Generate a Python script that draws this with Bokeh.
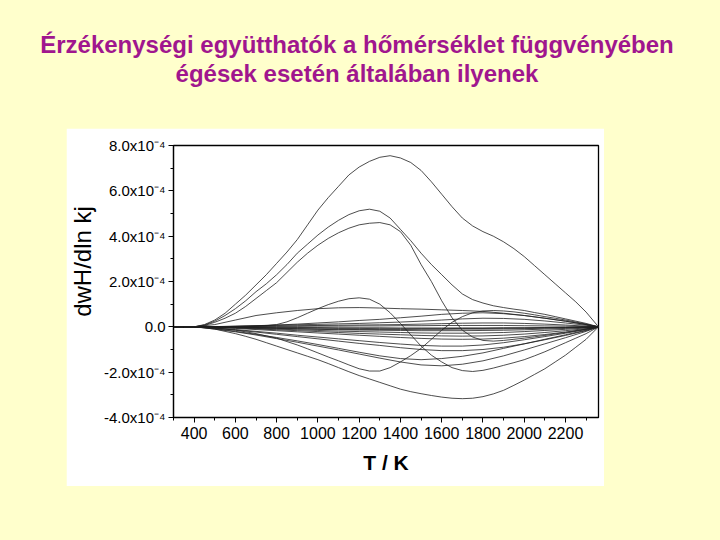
from bokeh.plotting import figure
from bokeh.models import Range1d, FixedTicker, Div, GlobalInlineStyleSheet
from bokeh.layouts import column
from bokeh.embed import file_html
from bokeh.resources import INLINE

# ---------------- data (sensitivity in units of 1e-4) ----------------
title_lines = ["Érzékenységi együtthatók a hőmérséklet függvényében",
               "égések esetén általában ilyenek"]

# fine temperature grid for the large curves
T2 = [300, 350, 400, 450, 500, 550, 600, 650, 700, 750,
      800, 850, 900, 950, 1000, 1050, 1100, 1150, 1200, 1250,
      1300, 1350, 1400, 1450, 1500, 1550, 1600, 1650, 1700, 1750,
      1800, 1850, 1900, 1950, 2000, 2050, 2100, 2150, 2200, 2250,
      2300, 2360]

A = [0, 0, 0, 0.1, 0.3, 0.6, 1.0, 1.4, 1.85, 2.3,
     2.8, 3.3, 3.85, 4.5, 5.15, 5.7, 6.2, 6.7, 7.05, 7.3,
     7.48, 7.55, 7.45, 7.25, 6.9, 6.4, 5.85, 5.3, 4.8, 4.45,
     4.2, 4.0, 3.75, 3.45, 3.1, 2.7, 2.3, 1.9, 1.5, 1.1,
     0.65, 0]
B = [0, 0, 0, 0.08, 0.25, 0.5, 0.8, 1.15, 1.55, 1.9,
     2.3, 2.75, 3.25, 3.65, 4.05, 4.4, 4.7, 4.95, 5.12, 5.19,
     5.1, 4.8, 4.3, 3.8, 3.25, 2.75, 2.3, 1.85, 1.45, 1.2,
     1.05, 0.93, 0.85, 0.78, 0.72, 0.63, 0.55, 0.45, 0.35, 0.25,
     0.15, 0]
C = [0, 0, 0, 0.06, 0.2, 0.38, 0.6, 0.9, 1.25, 1.6,
     1.95, 2.4, 2.85, 3.25, 3.6, 3.9, 4.15, 4.35, 4.5, 4.57,
     4.6, 4.5, 4.2, 3.6, 2.75, 2.0, 1.15, 0.4, -0.15, -0.45,
     -0.6, -0.63, -0.6, -0.55, -0.5, -0.44, -0.38, -0.31, -0.25, -0.18,
     -0.1, 0]
D = [0, 0, 0, 0, 0, 0, 0, 0.01, 0.02, 0.05,
     0.1, 0.22, 0.4, 0.6, 0.8, 0.98, 1.13, 1.24, 1.28, 1.22,
     1.0, 0.62, 0.15, -0.35, -0.85, -1.25, -1.55, -1.8, -1.93, -1.97,
     -1.92, -1.82, -1.7, -1.58, -1.45, -1.28, -1.1, -0.9, -0.7, -0.5,
     -0.3, 0]
L = [0, 0, 0, -0.02, -0.05, -0.1, -0.15, -0.22, -0.3, -0.4,
     -0.5, -0.65, -0.8, -0.97, -1.15, -1.33, -1.5, -1.68, -1.85, -1.95,
     -1.95, -1.8, -1.55, -1.27, -0.95, -0.55, -0.15, 0.2, 0.45, 0.62,
     0.7, 0.72, 0.7, 0.66, 0.6, 0.53, 0.45, 0.38, 0.3, 0.21,
     0.12, 0]
M = [0, 0, 0, -0.04, -0.1, -0.2, -0.3, -0.42, -0.55, -0.7,
     -0.85, -1.0, -1.15, -1.3, -1.45, -1.62, -1.8, -1.98, -2.15, -2.3,
     -2.45, -2.6, -2.75, -2.86, -2.95, -3.03, -3.1, -3.15, -3.17, -3.15,
     -3.08, -2.96, -2.8, -2.58, -2.35, -2.1, -1.85, -1.55, -1.25, -0.9,
     -0.55, 0]

# coarse grid for the smaller curves
T = [300, 400, 500, 600, 700, 800, 900, 1000, 1100, 1200, 1300, 1400,
     1500, 1600, 1700, 1800, 1900, 2000, 2100, 2200, 2300, 2360]

E = [0, 0, 0.1, 0.3, 0.5, 0.62, 0.72, 0.8, 0.84, 0.85, 0.83, 0.8, 0.78, 0.75, 0.72, 0.68, 0.6, 0.5, 0.38, 0.25, 0.1, 0]
F = [0, 0, 0, 0.02, 0.05, 0.08, 0.12, 0.17, 0.22, 0.28, 0.33, 0.4, 0.47, 0.55, 0.6, 0.62, 0.58, 0.5, 0.38, 0.25, 0.1, 0]
G = [0, 0, 0.01, 0.03, 0.05, 0.07, 0.09, 0.11, 0.13, 0.15, 0.18, 0.21, 0.25, 0.3, 0.35, 0.38, 0.37, 0.33, 0.26, 0.17, 0.07, 0]
K1 = [0, 0, -0.08, -0.2, -0.33, -0.47, -0.62, -0.78, -0.95, -1.12, -1.28, -1.4, -1.45, -1.4, -1.3, -1.15, -0.95, -0.75, -0.55, -0.35, -0.15, 0]
K2 = [0, 0, -0.1, -0.22, -0.36, -0.52, -0.68, -0.85, -1.02, -1.2, -1.38, -1.55, -1.68, -1.72, -1.65, -1.5, -1.28, -1.02, -0.75, -0.48, -0.2, 0]
I1 = [0, 0, -0.05, -0.12, -0.2, -0.28, -0.37, -0.45, -0.53, -0.61, -0.69, -0.76, -0.82, -0.85, -0.85, -0.8, -0.7, -0.57, -0.43, -0.28, -0.12, 0]
J1 = [0, 0, -0.06, -0.14, -0.23, -0.33, -0.43, -0.53, -0.63, -0.73, -0.82, -0.92, -1.0, -1.05, -1.05, -1.0, -0.9, -0.75, -0.57, -0.38, -0.17, 0]
N0 = [0, 0, 0.01, 0.02, 0.03, 0.04, 0.05, 0.06, 0.07, 0.08, 0.09, 0.1, 0.12, 0.14, 0.16, 0.17, 0.17, 0.15, 0.12, 0.08, 0.03, 0]
N1 = [0, 0, -0.01, -0.02, -0.03, -0.04, -0.05, -0.06, -0.07, -0.07, -0.08, -0.08, -0.08, -0.08, -0.07, -0.07, -0.06, -0.05, -0.04, -0.03, -0.01, 0]
N2 = [0, 0, -0.01, -0.03, -0.05, -0.07, -0.09, -0.11, -0.13, -0.14, -0.15, -0.16, -0.17, -0.17, -0.17, -0.16, -0.15, -0.13, -0.1, -0.07, -0.03, 0]
N3 = [0, 0, -0.02, -0.04, -0.07, -0.1, -0.13, -0.16, -0.19, -0.21, -0.23, -0.25, -0.27, -0.28, -0.28, -0.27, -0.25, -0.21, -0.16, -0.11, -0.05, 0]
N4 = [0, 0, -0.02, -0.05, -0.09, -0.13, -0.17, -0.21, -0.25, -0.29, -0.32, -0.35, -0.38, -0.4, -0.41, -0.4, -0.37, -0.32, -0.25, -0.17, -0.08, 0]
N5 = [0, 0, -0.03, -0.07, -0.12, -0.17, -0.22, -0.27, -0.32, -0.37, -0.42, -0.47, -0.51, -0.54, -0.55, -0.54, -0.5, -0.43, -0.34, -0.23, -0.1, 0]
N6 = [0, 0, -0.01, -0.01, -0.02, -0.02, -0.03, -0.03, -0.04, -0.04, -0.04, -0.05, -0.05, -0.05, -0.05, -0.05, -0.04, -0.04, -0.03, -0.02, -0.01, 0]
N7 = [0, 0, 0, 0.01, 0.01, 0.02, 0.02, 0.03, 0.03, 0.04, 0.04, 0.05, 0.05, 0.06, 0.06, 0.06, 0.06, 0.05, 0.04, 0.03, 0.01, 0]
N8 = [0, 0, -0.01, -0.02, -0.04, -0.06, -0.08, -0.1, -0.11, -0.12, -0.12, -0.12, -0.11, -0.11, -0.1, -0.1, -0.09, -0.08, -0.06, -0.04, -0.02, 0]

fine_series = [A, B, C, D, L, M]
coarse_series = [E, F, G, K1, K2, I1, J1, N0, N1, N2, N3, N4, N5, N6, N7, N8]

x_ticks = [400, 600, 800, 1000, 1200, 1400, 1600, 1800, 2000, 2200]
x_minor = [300, 500, 700, 900, 1100, 1300, 1500, 1700, 1900, 2100, 2300]
y_ticks = [-4, -2, 0, 2, 4, 6, 8]
y_minor = [-3, -1, 1, 3, 5, 7]
y_labels = ["-4.0x10\u207b\u2074", "-2.0x10\u207b\u2074", "0.0", "2.0x10\u207b\u2074",
            "4.0x10\u207b\u2074", "6.0x10\u207b\u2074", "8.0x10\u207b\u2074"]
x_title = "T / K"
y_title = "dwH/dln kj"

# ---------------- styling ----------------
BG = "#FFFFCC"
TITLE_COLOR = "#A0168E"
FONT = "Liberation Sans"
LINE_COLOR = "#202020"

title = Div(text="<br>".join(title_lines), width=714, height=128, margin=0,
            styles={"font-family": "'Liberation Sans', Arial, sans-serif",
                    "font-size": "24px", "font-weight": "bold",
                    "color": TITLE_COLOR, "text-align": "center",
                    "line-height": "29px", "padding-top": "30px",
                    "box-sizing": "border-box"})

p = figure(width=538, height=358, x_range=Range1d(300, 2360), y_range=Range1d(-4, 8),
           toolbar_location=None, output_backend="svg",
           min_border_left=104, min_border_right=6, min_border_top=17, min_border_bottom=69,
           margin=(0, 0, 0, 66))
p.background_fill_color = "white"
p.border_fill_color = "white"
p.grid.visible = False
p.outline_line_color = "black"
p.outline_line_width = 1.3

for s in coarse_series:
    p.line(T, s, line_color=LINE_COLOR, line_width=0.8)
for s in fine_series:
    p.line(T2, s, line_color=LINE_COLOR, line_width=0.8)

for ax in (p.xaxis[0], p.yaxis[0]):
    ax.axis_line_color = "black"
    ax.axis_line_width = 1.2
    ax.major_tick_in = 0
    ax.major_tick_out = 5
    ax.minor_tick_in = 0
    ax.minor_tick_out = 3
    ax.major_tick_line_color = "black"
    ax.minor_tick_line_color = "black"
    ax.major_label_text_font = FONT
    ax.major_label_text_color = "black"
    ax.axis_label_text_font = FONT
    ax.axis_label_text_color = "black"

p.xaxis.major_label_text_font_size = "16px"
p.yaxis.major_label_text_font_size = "15px"
p.xaxis.ticker = FixedTicker(ticks=x_ticks, minor_ticks=x_minor)
p.yaxis.ticker = FixedTicker(ticks=y_ticks, minor_ticks=y_minor)
p.yaxis.major_label_overrides = dict(zip(y_ticks, y_labels))
p.xaxis.major_label_standoff = 4
p.yaxis.major_label_standoff = 3

p.xaxis.axis_label = x_title
p.xaxis.axis_label_text_font_size = "21px"
p.xaxis.axis_label_text_font_style = "bold"
p.xaxis.axis_label_standoff = 9

# leading no-break spaces shift the centred label upwards, as in the original
p.yaxis.axis_label = "\u00a0" * 6 + y_title
p.yaxis.axis_label_text_font_size = "24px"
p.yaxis.axis_label_text_font_style = "normal"
p.yaxis.axis_label_standoff = 5

layout = column(title, p, spacing=0)
layout.stylesheets = [GlobalInlineStyleSheet(css="html, body { background-color: #FFFFCC; }")]

open("out.html", "w").write(file_html(layout, INLINE))
